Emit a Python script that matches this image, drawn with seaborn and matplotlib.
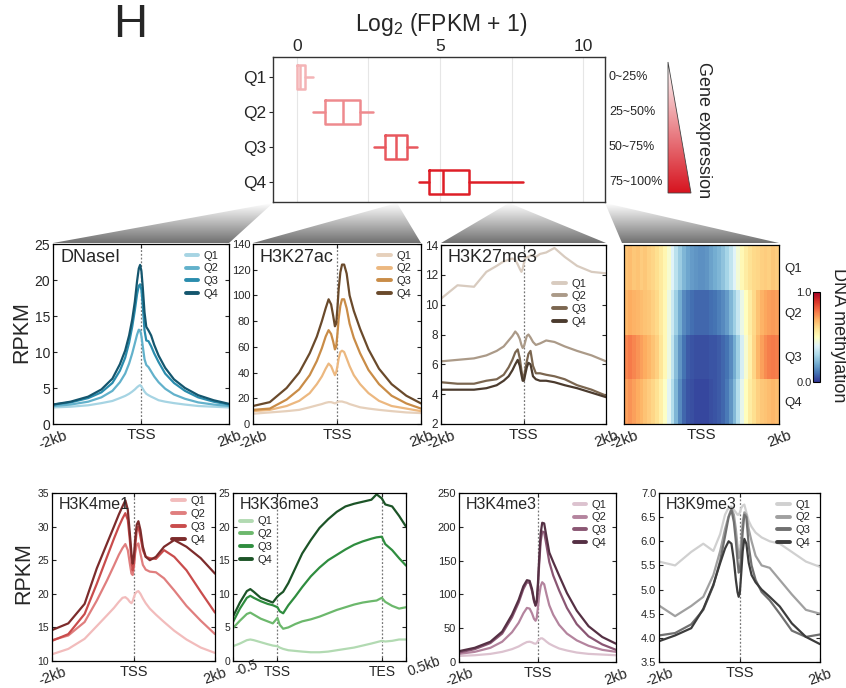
import numpy as np
import pandas as pd
import matplotlib
matplotlib.use("Agg")
import matplotlib.pyplot as plt
import seaborn as sns
from matplotlib.patches import Polygon
from matplotlib.colors import LinearSegmentedColormap
from matplotlib.lines import Line2D
from matplotlib.ticker import FormatStrFormatter

sns.set_style("ticks")
plt.rcParams["font.family"] = ["Liberation Sans", "DejaVu Sans"]
plt.rcParams["mathtext.default"] = "regular"

# ---------------- data ----------------
QUARTILES = ["Q1", "Q2", "Q3", "Q4"]
RANGE_LABELS = ["0~25%", "25~50%", "50~75%", "75~100%"]

BOX_LO = [0.0, 0.55, 2.68, 4.25]
BOX_Q1 = [0.0, 1.0, 3.07, 4.6]
BOX_MED = [0.12, 1.6, 3.45, 5.1]
BOX_Q3 = [0.28, 2.2, 3.83, 6.0]
BOX_HI = [0.55, 2.65, 4.2, 7.9]

X_TSS = [-2.0, -1.6, -1.2, -0.9, -0.65, -0.48, -0.36, -0.27, -0.2, -0.14, -0.09, -0.05, -0.02,
         0.01, 0.04, 0.08, 0.12, 0.17, 0.23, 0.3, 0.4, 0.55, 0.75, 1.0, 1.3, 1.65, 2.0]

DNASE_Q1 = [2.3, 2.4, 2.6, 2.9, 3.2, 3.6, 3.9, 4.2, 4.5, 4.8, 5.1, 5.3, 5.4, 5.2, 4.9, 4.5, 4.2, 4.0, 3.8, 3.6, 3.3, 3.1, 2.9, 2.7, 2.5, 2.4, 2.3]
DNASE_Q2 = [2.5, 2.7, 3.1, 3.7, 4.6, 5.8, 7.0, 8.4, 9.8, 11.2, 12.4, 13.1, 13.0, 12.2, 10.8, 9.0, 8.2, 7.9, 7.3, 6.6, 5.8, 4.9, 4.1, 3.5, 3.0, 2.7, 2.5]
DNASE_Q3 = [2.7, 3.0, 3.6, 4.4, 5.7, 7.4, 9.2, 11.3, 13.5, 15.8, 18.0, 19.2, 19.4, 18.6, 16.5, 13.0, 11.6, 11.5, 10.8, 9.8, 8.6, 7.0, 5.7, 4.6, 3.7, 3.1, 2.7]
DNASE_Q4 = [2.7, 3.1, 3.8, 4.8, 6.3, 8.3, 10.2, 12.3, 14.5, 17.0, 19.8, 21.6, 22.1, 21.2, 19.0, 15.5, 13.5, 13.0, 12.3, 11.0, 9.5, 7.8, 6.2, 5.0, 4.0, 3.3, 2.8]

K27AC_Q1 = [8, 9, 10, 11, 13, 14.5, 15.5, 16.5, 17, 17, 16.5, 16, 16.5, 17, 17.5, 17.5, 17.5, 17, 16.5, 15.5, 14.5, 13, 12, 11, 10, 9, 8.5]
K27AC_Q2 = [10, 11, 14, 18, 24, 31, 37, 43, 47, 45, 41, 38, 40, 45, 51, 56, 57, 56, 51, 45, 38, 31, 24, 18, 14, 12, 10]
K27AC_Q3 = [11, 12, 19, 27, 38, 49, 59, 68, 73, 70, 64, 58, 60, 70, 82, 92, 97, 97, 90, 78, 67, 55, 42, 31, 22, 16, 12]
K27AC_Q4 = [14, 17, 28, 40, 55, 68, 80, 90, 97, 93, 84, 76, 78, 90, 105, 118, 124, 124, 117, 100, 88, 74, 58, 43, 31, 22, 16]

K27ME3_Q1 = [10.4, 11.3, 11.2, 12.2, 12.6, 12.9, 13.0, 13.1, 13.0, 12.7, 12.4, 12.2, 12.4, 12.8, 13.1, 13.2, 13.2, 13.3, 13.3, 13.2, 13.4, 13.5, 13.8, 13.2, 12.6, 12.2, 12.1]
K27ME3_Q2 = [6.2, 6.3, 6.4, 6.6, 6.9, 7.2, 7.6, 7.9, 8.2, 8.0, 7.7, 7.3, 7.1, 7.2, 7.5, 7.9, 8.0, 7.8, 7.5, 7.3, 7.4, 7.6, 7.5, 7.2, 6.9, 6.6, 6.2]
K27ME3_Q3 = [4.8, 4.7, 4.7, 4.9, 5.0, 5.3, 5.8, 6.3, 6.8, 7.0, 6.4, 5.6, 5.1, 5.1, 5.6, 6.2, 6.7, 6.9, 5.9, 5.4, 5.4, 5.3, 5.2, 5.0, 4.6, 4.3, 3.9]
K27ME3_Q4 = [4.3, 4.3, 4.3, 4.4, 4.6, 4.9, 5.2, 5.6, 6.0, 6.3, 5.9, 5.3, 4.9, 4.9, 5.3, 5.8, 6.1, 6.0, 5.2, 5.0, 4.9, 4.9, 4.8, 4.6, 4.4, 4.1, 3.8]

K4ME1_Q1 = [11.0, 11.8, 13.3, 15.2, 16.8, 17.9, 18.8, 19.4, 19.5, 19.2, 18.8, 18.6, 18.9, 19.5, 20.0, 20.3, 20.4, 20.0, 19.3, 18.6, 17.8, 16.9, 15.8, 14.5, 13.2, 12.0, 11.2]
K4ME1_Q2 = [13.1, 13.8, 15.8, 19.0, 22.0, 24.2, 25.8, 26.8, 27.4, 26.5, 24.5, 23.0, 22.8, 24.0, 26.0, 27.3, 27.5, 26.0, 24.3, 23.6, 23.3, 23.2, 22.3, 20.5, 18.2, 16.0, 14.0]
K4ME1_Q3 = [13.0, 14.0, 17.0, 21.5, 25.5, 28.2, 30.0, 31.2, 32.0, 31.0, 28.0, 25.0, 23.5, 24.5, 27.0, 29.5, 30.0, 28.5, 26.5, 25.5, 25.3, 25.2, 26.5, 25.5, 23.5, 20.3, 17.2]
K4ME1_Q4 = [14.6, 15.6, 18.5, 23.8, 27.5, 30.0, 31.8, 33.0, 33.9, 32.5, 29.0, 26.0, 24.5, 25.5, 28.0, 30.3, 30.8, 29.5, 27.0, 25.5, 25.0, 25.5, 27.0, 28.0, 27.0, 25.3, 23.0]

X_BODY = [0, 4, 8, 10, 12, 16, 20, 23, 25.7, 27, 29, 32, 36, 40, 45, 50, 55, 60, 65, 70, 75, 80, 83, 86, 88, 92, 96, 100]
K36ME3_Q1 = [2.2, 2.6, 3.1, 3.2, 3.1, 2.8, 2.5, 2.3, 2.2, 2.0, 1.8, 1.6, 1.5, 1.4, 1.3, 1.3, 1.4, 1.6, 1.8, 2.0, 2.3, 2.6, 2.8, 3.0, 2.9, 3.0, 3.2, 3.2]
K36ME3_Q2 = [4.9, 6.0, 7.0, 7.2, 6.9, 6.3, 5.9, 5.6, 6.4, 5.4, 4.8, 5.0, 5.5, 5.9, 6.2, 6.6, 7.1, 7.6, 8.0, 8.4, 8.7, 8.9, 9.0, 9.4, 8.8, 8.2, 7.8, 8.0]
K36ME3_Q3 = [5.8, 7.8, 9.4, 9.7, 9.4, 8.9, 8.5, 8.3, 8.0, 7.4, 7.1, 8.3, 9.6, 11.0, 12.6, 13.9, 15.0, 15.8, 16.6, 17.3, 17.8, 18.2, 18.4, 18.5, 17.4, 16.5, 15.3, 14.2]
K36ME3_Q4 = [6.6, 8.7, 10.4, 10.7, 10.3, 9.4, 9.0, 8.7, 9.6, 9.9, 10.3, 11.6, 13.8, 16.0, 18.0, 19.8, 21.1, 22.2, 23.0, 23.4, 23.7, 24.0, 24.8, 24.2, 23.3, 23.0, 21.6, 20.0]

K4ME3_Q1 = [9, 10, 12, 15, 19, 23, 27, 29.5, 30, 29, 27.5, 27, 28, 31, 33, 35, 35, 33, 30, 27, 24, 20, 17, 14, 12, 11, 10]
K4ME3_Q2 = [12, 15, 21, 30, 44, 58, 72, 80, 79, 72, 64, 61, 65, 80, 97, 112, 118, 115, 100, 84, 70, 55, 42, 32, 24, 18, 15]
K4ME3_Q3 = [14, 19, 28, 42, 66, 88, 108, 118, 117, 105, 90, 83, 88, 110, 142, 178, 193, 192, 172, 148, 128, 106, 80, 56, 38, 26, 18]
K4ME3_Q4 = [16, 21, 30, 45, 70, 92, 112, 121, 120, 108, 92, 84, 90, 115, 150, 190, 206, 205, 185, 162, 148, 128, 102, 76, 53, 37, 27]

K9ME3_Q1 = [5.58, 5.5, 5.78, 5.95, 5.8, 6.15, 6.55, 6.7, 6.72, 6.65, 6.6, 6.55, 6.55, 6.6, 6.68, 6.74, 6.76, 6.6, 6.42, 6.3, 6.18, 6.08, 6.0, 5.95, 5.78, 5.58, 5.47]
K9ME3_Q2 = [4.67, 4.45, 4.66, 4.85, 5.3, 5.8, 6.25, 6.52, 6.68, 6.55, 6.25, 5.9, 5.65, 5.7, 6.0, 6.4, 6.6, 6.55, 6.25, 6.0, 5.7, 5.5, 5.45, 5.2, 4.9, 4.58, 4.5]
K9ME3_Q3 = [4.05, 4.1, 4.28, 4.58, 5.08, 5.6, 6.1, 6.5, 6.65, 6.4, 6.0, 5.6, 5.35, 5.4, 5.7, 6.2, 6.55, 6.5, 5.9, 5.5, 5.2, 4.95, 4.78, 4.5, 4.15, 4.02, 4.07]
K9ME3_Q4 = [3.93, 4.05, 4.2, 4.6, 5.1, 5.55, 5.85, 6.0, 5.95, 5.6, 5.2, 4.95, 4.85, 4.95, 5.3, 5.8, 6.05, 5.95, 5.55, 5.3, 5.15, 5.0, 4.85, 4.65, 4.3, 4.02, 3.87]

# DNA methylation, 40 bins of 0.1 kb from -2 kb to +2 kb
METH_Q1 = [0.66, 0.67, 0.65, 0.66, 0.64, 0.65, 0.63, 0.62, 0.60, 0.57, 0.53, 0.47, 0.40, 0.33, 0.27, 0.22, 0.19, 0.17, 0.16, 0.15,
           0.15, 0.16, 0.18, 0.20, 0.22, 0.25, 0.29, 0.34, 0.40, 0.46, 0.52, 0.56, 0.59, 0.61, 0.62, 0.63, 0.64, 0.63, 0.65, 0.64]
METH_Q2 = [0.68, 0.70, 0.69, 0.68, 0.67, 0.66, 0.65, 0.63, 0.61, 0.57, 0.52, 0.44, 0.36, 0.28, 0.20, 0.14, 0.11, 0.09, 0.08, 0.08,
           0.08, 0.08, 0.09, 0.10, 0.12, 0.14, 0.17, 0.22, 0.28, 0.35, 0.43, 0.50, 0.56, 0.61, 0.66, 0.69, 0.71, 0.72, 0.73, 0.72]
METH_Q3 = [0.76, 0.78, 0.76, 0.74, 0.72, 0.70, 0.68, 0.66, 0.63, 0.58, 0.52, 0.44, 0.34, 0.24, 0.16, 0.10, 0.06, 0.05, 0.04, 0.04,
           0.04, 0.04, 0.05, 0.05, 0.06, 0.08, 0.10, 0.14, 0.20, 0.28, 0.38, 0.47, 0.55, 0.62, 0.68, 0.72, 0.75, 0.77, 0.78, 0.77]
METH_Q4 = [0.72, 0.74, 0.72, 0.70, 0.68, 0.66, 0.64, 0.62, 0.59, 0.55, 0.49, 0.41, 0.32, 0.22, 0.14, 0.08, 0.05, 0.04, 0.03, 0.03,
           0.03, 0.03, 0.04, 0.05, 0.06, 0.08, 0.11, 0.16, 0.23, 0.32, 0.42, 0.50, 0.56, 0.60, 0.63, 0.65, 0.66, 0.67, 0.68, 0.67]

BOX_COLORS = ["#f4b4b6", "#ee8a8e", "#e8585e", "#de1e27"]
DNASE_COLORS = ["#a6d4e3", "#62b1cb", "#2a8cad", "#14566e"]
K27AC_COLORS = ["#e6d0bb", "#ecb880", "#c98c47", "#6a4a2b"]
K27ME3_COLORS = ["#d8cbbf", "#ab9a88", "#7b6650", "#4b3b2e"]
K4ME1_COLORS = ["#f2bcbc", "#e07e7e", "#c94c4c", "#7c2b2b"]
K36ME3_COLORS = ["#b2dab2", "#6cb86c", "#2f8d3f", "#1c5427"]
K4ME3_COLORS = ["#dcc2cf", "#b4849e", "#8a5673", "#553044"]
K9ME3_COLORS = ["#d0d0d0", "#a0a0a0", "#707070", "#3c3c3c"]

# ---------------- figure ----------------
W, H = 846, 688
fig = plt.figure(figsize=(W / 100, H / 100), dpi=100)


def add_ax(l, t, r, b):
    return fig.add_axes([l / W, 1 - b / H, (r - l) / W, (b - t) / H])


# background overlay for connector fans and triangle
bg = fig.add_axes([0, 0, 1, 1])
bg.set_zorder(-5)
bg.axis("off")
gray_cmap = LinearSegmentedColormap.from_list("fan", ["#ffffff", "#707070"])
red_cmap = LinearSegmentedColormap.from_list("tri", ["#ffffff", "#d7141f"])
grad = np.linspace(0, 1, 200).reshape(-1, 1)
FANS = [(273, 203, 53, 229, 243), (397, 203, 253, 421, 243),
        (509, 203, 441, 606, 243), (605, 203, 622, 779, 243)]
for axx, ayy, bl, br, byy in FANS:
    poly = Polygon([(axx, ayy), (bl, byy), (br, byy)], closed=True, fc="none", ec="none")
    bg.add_patch(poly)
    im = bg.imshow(grad, cmap=gray_cmap, extent=(min(axx, bl), max(axx, br), byy, ayy),
                   aspect="auto", origin="upper", zorder=1)
    im.set_clip_path(poly)
tri = Polygon([(668, 62), (668, 193), (691, 193)], closed=True, fc="none", ec="#444444", lw=0.6, zorder=3)
bg.add_patch(tri)
im = bg.imshow(grad, cmap=red_cmap, extent=(668, 691, 193, 62), aspect="auto", origin="upper", zorder=2)
im.set_clip_path(tri)
bg.set_xlim(0, W)
bg.set_ylim(H, 0)

# ---------------- boxplot ----------------
ax_box = add_ax(273, 57, 605, 202)
stats = [dict(whislo=lo, q1=q1, med=m, q3=q3, whishi=hi, fliers=[])
         for lo, q1, m, q3, hi in zip(BOX_LO, BOX_Q1, BOX_MED, BOX_Q3, BOX_HI)]
try:
    res = ax_box.bxp(stats, positions=[0, 1, 2, 3], widths=0.7, orientation="horizontal",
                     showfliers=False, showcaps=False)
except TypeError:
    res = ax_box.bxp(stats, positions=[0, 1, 2, 3], widths=0.7, vert=False,
                     showfliers=False, showcaps=False)
for i, c in enumerate(BOX_COLORS):
    res["boxes"][i].set(color=c, lw=1.8)
    res["medians"][i].set(color=c, lw=1.8)
    res["whiskers"][2 * i].set(color=c, lw=1.8)
    res["whiskers"][2 * i + 1].set(color=c, lw=1.8)
ax_box.set_xlim(-0.83, 10.75)
ax_box.set_ylim(3.57, -0.57)
ax_box.set_xticks([0, 5, 10])
ax_box.set_xticks([2.5, 7.5], minor=True)
ax_box.grid(axis="x", which="both", color="#e6e6e6", lw=0.8)
ax_box.set_axisbelow(True)
ax_box.xaxis.set_ticks_position("top")
ax_box.tick_params(axis="x", which="both", length=0, labelsize=12.5, pad=2)
ax_box.set_yticks([0, 1, 2, 3])
ax_box.set_yticklabels(QUARTILES)
ax_box.tick_params(axis="y", length=3, labelsize=12.5, direction="out", pad=2)
for s in ax_box.spines.values():
    s.set_color("#333333")
    s.set_linewidth(1.0)
for i, lab in enumerate(RANGE_LABELS):
    ax_box.text(1.012, i, lab, transform=ax_box.get_yaxis_transform(), va="center", ha="left", fontsize=9)

fig.text(441 / W, 1 - 24 / H, "Log$_2$ (FPKM + 1)", ha="center", va="center", fontsize=16.5)
fig.text(130 / W, 1 - 25 / H, "H", ha="center", va="center", fontsize=34)
fig.text(703 / W, 1 - 130 / H, "Gene expression", rotation=270, ha="center", va="center", fontsize=13)


# ---------------- profiles ----------------
def profile(rect, x, series, colors, ylim, yticks, title, title_fs, leg_kw, ytick_fs,
            xticks, xticklabels, vlines, xtick_fs=11, yfmt=None, anchor_edges=False):
    ax = add_ax(*rect)
    df = pd.DataFrame({"x": np.tile(x, 4), "y": np.concatenate([np.asarray(s, float) for s in series]),
                       "Q": np.repeat(QUARTILES, len(x))})
    for v in vlines:
        ax.axvline(v, color="#777777", ls=(0, (1.5, 1.5)), lw=0.9, zorder=0)
    sns.lineplot(data=df, x="x", y="y", hue="Q", hue_order=QUARTILES, palette=colors,
                 ax=ax, lw=1.6, legend=False, estimator=None)
    ax.set_xlim(x[0], x[-1])
    ax.set_ylim(*ylim)
    ax.set_yticks(yticks)
    if yfmt:
        ax.yaxis.set_major_formatter(FormatStrFormatter(yfmt))
    ax.set_xticks(xticks)
    ax.set_xticklabels(xticklabels)
    ax.set_xlabel("")
    ax.set_ylabel("")
    ax.tick_params(direction="in", length=3, width=0.8, top=True, right=True, labelsize=ytick_fs, pad=2)
    ax.tick_params(axis="x", labelsize=xtick_fs, pad=3)
    for lbl in ax.get_xticklabels():
        if lbl.get_text() not in ("TSS", "TES"):
            lbl.set_rotation(20)
            if anchor_edges:
                lbl.set_rotation_mode("anchor")
                lbl.set_ha("left")
                lbl.set_va("top")
    for s in ax.spines.values():
        s.set_color("black")
        s.set_linewidth(0.9)
    ax.text(0.04, 0.975, title, transform=ax.transAxes, va="top", ha="left", fontsize=title_fs)
    handles = [Line2D([0], [0], color=c, lw=2.8) for c in colors]
    ax.legend(handles, QUARTILES, frameon=False, fontsize=8, handlelength=1.1, handletextpad=0.5,
              labelspacing=0.25, borderaxespad=0.2, **leg_kw)
    return ax


TSS_TICKS = [-2, 0, 2]
TSS_LABELS = ["-2kb", "TSS", "2kb"]
UR = dict(loc="upper right", bbox_to_anchor=(0.98, 1.0))

profile((53, 244, 229, 424), X_TSS, [DNASE_Q1, DNASE_Q2, DNASE_Q3, DNASE_Q4], DNASE_COLORS,
        (0, 25), np.arange(0, 26, 5), "DNaseI", 13, UR, 10, TSS_TICKS, TSS_LABELS, [0])
profile((253, 244, 421, 424), X_TSS, [K27AC_Q1, K27AC_Q2, K27AC_Q3, K27AC_Q4], K27AC_COLORS,
        (0, 140), np.arange(0, 141, 20), "H3K27ac", 13, UR, 8, TSS_TICKS, TSS_LABELS, [0])
profile((441, 245, 606, 424), X_TSS, [K27ME3_Q1, K27ME3_Q2, K27ME3_Q3, K27ME3_Q4], K27ME3_COLORS,
        (2, 14), np.arange(2, 15, 2), "H3K27me3", 13, dict(loc="upper right", bbox_to_anchor=(0.92, 0.85)),
        8.5, TSS_TICKS, TSS_LABELS, [0])
profile((52, 493, 215, 661), X_TSS, [K4ME1_Q1, K4ME1_Q2, K4ME1_Q3, K4ME1_Q4], K4ME1_COLORS,
        (10, 35), np.arange(10, 36, 5), "H3K4me1", 11.5, dict(loc="upper right", bbox_to_anchor=(0.98, 1.02)),
        7.5, TSS_TICKS, TSS_LABELS, [0], xtick_fs=10.5)
profile((233, 493, 406, 661), X_BODY, [K36ME3_Q1, K36ME3_Q2, K36ME3_Q3, K36ME3_Q4], K36ME3_COLORS,
        (0, 25), np.arange(0, 26, 5), "H3K36me3", 11.5, dict(loc="upper left", bbox_to_anchor=(0.0, 0.9)),
        7.5, [0, 25.7, 86, 100], ["-0.5", "TSS", "TES", "0.5kb"], [25.7, 86], xtick_fs=10, anchor_edges=True)
profile((459, 493, 616, 662), X_TSS, [K4ME3_Q1, K4ME3_Q2, K4ME3_Q3, K4ME3_Q4], K4ME3_COLORS,
        (0, 250), np.arange(0, 251, 50), "H3K4me3", 11.5, UR, 8, TSS_TICKS, TSS_LABELS, [0], xtick_fs=10.5)
profile((659, 493, 820, 662), X_TSS, [K9ME3_Q1, K9ME3_Q2, K9ME3_Q3, K9ME3_Q4], K9ME3_COLORS,
        (3.5, 7.0), np.arange(3.5, 7.01, 0.5), "H3K9me3", 11.5, UR, 8, TSS_TICKS, TSS_LABELS, [0],
        xtick_fs=10.5, yfmt="%.1f")

fig.text(22 / W, 1 - 332 / H, "RPKM", rotation=90, ha="center", va="center", fontsize=15.5)
fig.text(24 / W, 1 - 573 / H, "RPKM", rotation=90, ha="center", va="center", fontsize=15.5)

# ---------------- methylation heatmap ----------------
ax_h = add_ax(624, 245, 779, 424)
ax_cb = add_ax(813, 292, 820, 382)
meth = pd.DataFrame([METH_Q1, METH_Q2, METH_Q3, METH_Q4], index=QUARTILES)
sns.heatmap(meth, cmap="RdYlBu_r", vmin=0, vmax=1, ax=ax_h, cbar_ax=ax_cb,
            cbar_kws={"ticks": [0, 1]}, xticklabels=False, yticklabels=True)
n_bins = meth.shape[1]
ax_h.set_xticks([0, n_bins / 2, n_bins])
ax_h.set_xticklabels(TSS_LABELS)
ax_h.tick_params(axis="x", direction="in", length=3, labelsize=11, pad=3, top=True)
for lbl in ax_h.get_xticklabels():
    if lbl.get_text() != "TSS":
        lbl.set_rotation(20)
ax_h.yaxis.tick_right()
ax_h.tick_params(axis="y", length=0, labelsize=9.5, pad=4)
for lbl in ax_h.get_yticklabels():
    lbl.set_rotation(0)
ax_h.set_xlabel("")
ax_h.set_ylabel("")
for s in ax_h.spines.values():
    s.set_visible(True)
    s.set_color("black")
    s.set_linewidth(0.9)
cbar = ax_h.collections[0].colorbar
cbar.outline.set_edgecolor("black")
cbar.outline.set_linewidth(0.8)
ax_cb.yaxis.set_ticks_position("left")
ax_cb.set_yticks([0, 1])
ax_cb.set_yticklabels(["0.0", "1.0"])
ax_cb.tick_params(labelsize=8, length=0, pad=1)
fig.text(838 / W, 1 - 335 / H, "DNA methylation", rotation=270, ha="center", va="center", fontsize=13)

fig.savefig("out.png", dpi=100)
